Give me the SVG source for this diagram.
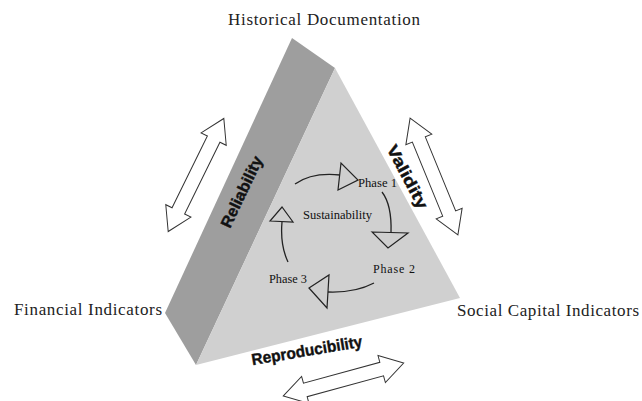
<svg xmlns="http://www.w3.org/2000/svg" width="642" height="401" viewBox="0 0 642 401">
<style>
.lbl{font-family:"Liberation Serif","Times New Roman",serif;fill:#222}
.big{font-size:17px}
.ph{font-size:12px;fill:#111}
.axis{font-family:"Liberation Sans",Arial,sans-serif;font-weight:bold;font-size:16px;fill:#111;stroke:#111;stroke-width:0.4}
.dbl{fill:#fff;stroke:#333;stroke-width:1}
.arc{fill:none;stroke:#222;stroke-width:1.3}
.head{fill:#cfcfcf;stroke:#222;stroke-width:1.2;stroke-linejoin:miter}
</style>
<defs>
<path id="dblarrow" d="M-63,0 L-40,-14 L-40,-7 L40,-7 L40,-14 L63,0 L40,14 L40,7 L-40,7 L-40,14 Z"/>
</defs>
<rect width="642" height="401" fill="#fff"/>
<g id="prism">
<polygon id="face-reliability" points="292,38 335,68 196,365 165,313" fill="#9e9e9e"/>
<polygon id="face-front" points="335,68 460,298 196,365" fill="#d0d0d0"/>
</g>
<g id="node-historical"><text class="lbl big" x="228" y="25" textLength="192" lengthAdjust="spacing">Historical Documentation</text></g>
<g id="node-financial"><text class="lbl big" x="14" y="315" textLength="148" lengthAdjust="spacing">Financial Indicators</text></g>
<g id="node-social"><text class="lbl big" x="457" y="316" textLength="182" lengthAdjust="spacing">Social Capital Indicators</text></g>
<g id="node-sustainability"><text class="lbl ph" x="303" y="219" textLength="69" lengthAdjust="spacingAndGlyphs">Sustainability</text></g>
<g id="node-phase1"><text class="lbl ph" x="358" y="187" textLength="39" lengthAdjust="spacingAndGlyphs">Phase 1</text></g>
<g id="node-phase2"><text class="lbl ph" x="373" y="273" textLength="42" lengthAdjust="spacing">Phase  2</text></g>
<g id="node-phase3"><text class="lbl ph" x="269" y="283" textLength="38" lengthAdjust="spacingAndGlyphs">Phase 3</text></g>
<g id="axis-labels">
<text class="axis" transform="translate(242,192) rotate(-64.5)" x="0" y="5" text-anchor="middle" textLength="77" lengthAdjust="spacingAndGlyphs">Reliability</text>
<text class="axis" transform="translate(407,177) rotate(62)" x="0" y="5" text-anchor="middle" textLength="70" lengthAdjust="spacingAndGlyphs">Validity</text>
<text class="axis" transform="translate(307,351) rotate(-9.5)" x="0" y="5" text-anchor="middle" textLength="112" lengthAdjust="spacingAndGlyphs">Reproducibility</text>
</g>
<g id="connectors">
<use href="#dblarrow" class="dbl" transform="translate(196,175) rotate(-63.8)"/>
<use href="#dblarrow" class="dbl" transform="translate(434,176.5) rotate(67.7)"/>
<use href="#dblarrow" class="dbl" transform="translate(343.5,379.5) rotate(-15.3) scale(0.99,1)"/>
<path class="arc" d="M295,184 Q312,172 340,175"/>
<polygon class="head" points="341,163 338,190 358,180"/>
<path class="arc" d="M382,192 Q392,205 391,233"/>
<polygon class="head" points="372,232 408,233 388,248"/>
<path class="arc" d="M374,283 Q355,293 328,292"/>
<polygon class="head" points="309,288 329,275 327,308"/>
<path class="arc" d="M288,262 Q280,245 282,222"/>
<polygon class="head" points="270,221 293,222 282,207"/>
</g>
</svg>
